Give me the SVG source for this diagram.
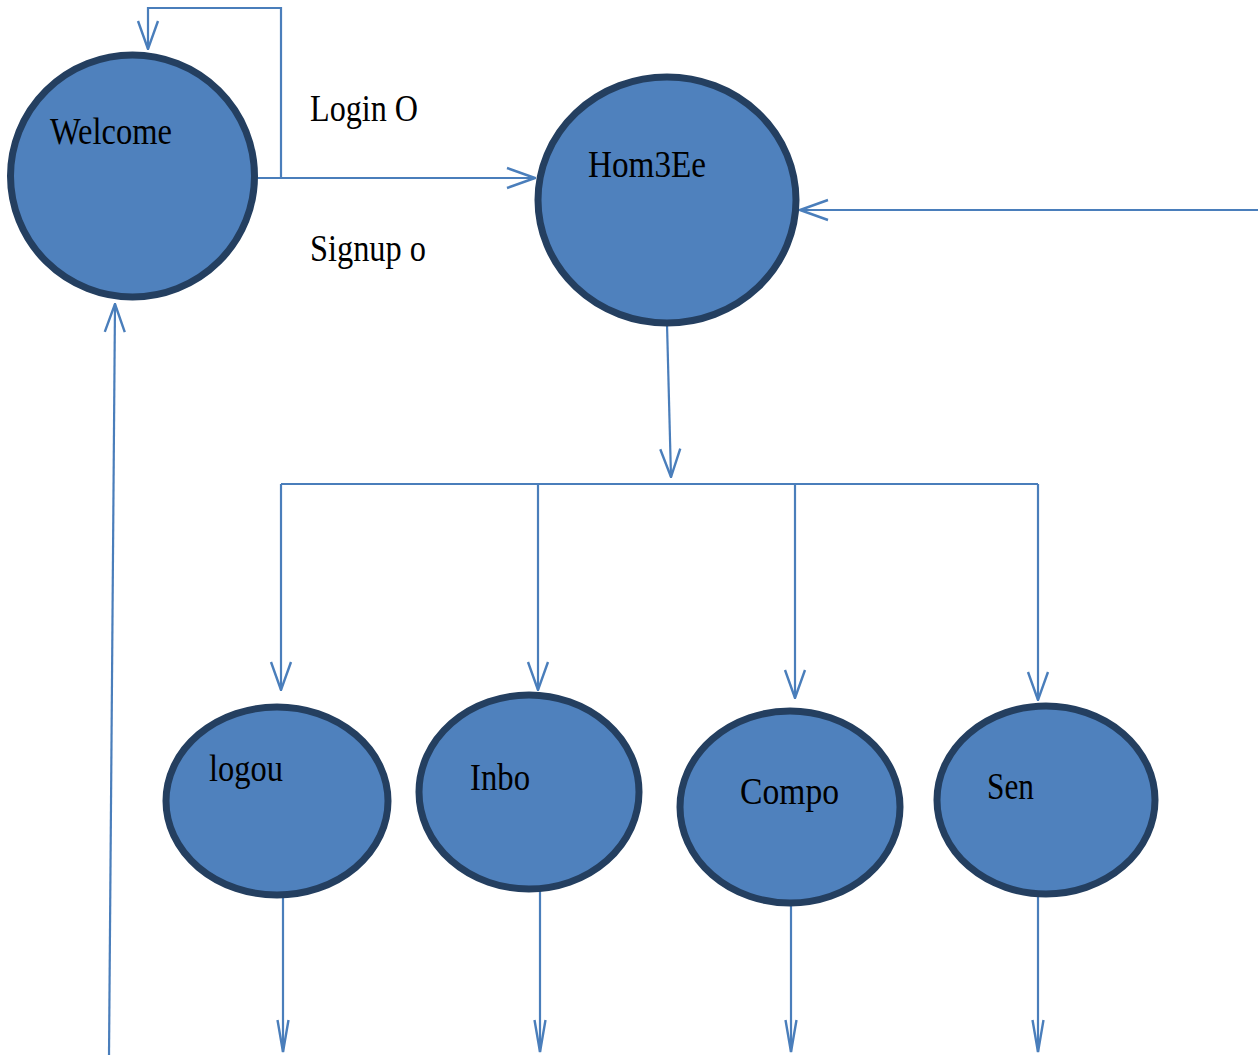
<svg xmlns="http://www.w3.org/2000/svg" width="1258" height="1055" viewBox="0 0 1258 1055">
<style>
.node{fill:#4F81BD;stroke:#243F60;stroke-width:7}
.lbl{font-family:'Liberation Serif','DejaVu Serif',serif;fill:#000;font-size:38px}
.c{fill:none;stroke:#4A7EBB;stroke-width:2.2}
</style>
<defs>
<marker id="a" markerUnits="userSpaceOnUse" viewBox="0 0 30 24" refX="29" refY="12" markerWidth="30" markerHeight="24" orient="auto">
<path d="M1,2 L29,12 L1,22" fill="none" stroke="#4A7EBB" stroke-width="2.4"/>
</marker>
<marker id="n" markerUnits="userSpaceOnUse" viewBox="0 0 34 14" refX="33" refY="7" markerWidth="34" markerHeight="14" orient="auto">
<path d="M1,1.5 L33,7 L1,12.5" fill="none" stroke="#4A7EBB" stroke-width="2.4"/>
</marker>
</defs>
<rect width="1258" height="1055" fill="#fff"/>
<g id="connectors">
<line class="c" x1="256" y1="178" x2="535" y2="178" marker-end="url(#a)"/>
<polyline class="c" points="281,178 281,8 148,8 148,49" marker-end="url(#a)"/>
<line class="c" x1="1258" y1="210" x2="800" y2="210" marker-end="url(#a)"/>
<line class="c" x1="667" y1="324" x2="671" y2="477" marker-end="url(#a)"/>
<line class="c" x1="281" y1="484" x2="1038" y2="484"/>
<line class="c" x1="281" y1="484" x2="281" y2="690" marker-end="url(#a)"/>
<line class="c" x1="538" y1="484" x2="538" y2="690" marker-end="url(#a)"/>
<line class="c" x1="795" y1="484" x2="795" y2="698" marker-end="url(#a)"/>
<line class="c" x1="1038" y1="484" x2="1038" y2="700" marker-end="url(#a)"/>
<line class="c" x1="283" y1="896" x2="283" y2="1052" marker-end="url(#n)"/>
<line class="c" x1="540" y1="890" x2="540" y2="1052" marker-end="url(#n)"/>
<line class="c" x1="791" y1="904" x2="791" y2="1052" marker-end="url(#n)"/>
<line class="c" x1="1038" y1="896" x2="1038" y2="1052" marker-end="url(#n)"/>
<line class="c" x1="109" y1="1055" x2="115" y2="304" marker-end="url(#a)"/>
</g>
<g id="welcome">
<ellipse class="node" cx="132.5" cy="176" rx="122" ry="121"/>
<text class="lbl" x="50" y="144" textLength="122" lengthAdjust="spacingAndGlyphs" font-size="35">Welcome</text>
</g>
<g id="label-login"><text class="lbl" x="310" y="121" textLength="108" lengthAdjust="spacingAndGlyphs">Login O</text></g>
<g id="label-signup"><text class="lbl" x="310" y="261" textLength="116" lengthAdjust="spacingAndGlyphs">Signup o</text></g>
<g id="home">
<ellipse class="node" cx="667" cy="200" rx="129" ry="123"/>
<text class="lbl" x="588" y="177" textLength="118" lengthAdjust="spacingAndGlyphs">Hom3Ee</text>
</g>
<g id="logout">
<ellipse class="node" cx="277" cy="801" rx="111" ry="94"/>
<text class="lbl" x="209" y="781" textLength="74" lengthAdjust="spacingAndGlyphs">logou</text>
</g>
<g id="inbox">
<ellipse class="node" cx="529" cy="792" rx="110" ry="97"/>
<text class="lbl" x="470" y="790" textLength="60" lengthAdjust="spacingAndGlyphs">Inbo</text>
</g>
<g id="compose">
<ellipse class="node" cx="790" cy="807" rx="110" ry="96"/>
<text class="lbl" x="740" y="804" textLength="99" lengthAdjust="spacingAndGlyphs">Compo</text>
</g>
<g id="sent">
<ellipse class="node" cx="1046" cy="800" rx="109" ry="94"/>
<text class="lbl" x="987" y="799" textLength="47" lengthAdjust="spacingAndGlyphs">Sen</text>
</g>
</svg>
